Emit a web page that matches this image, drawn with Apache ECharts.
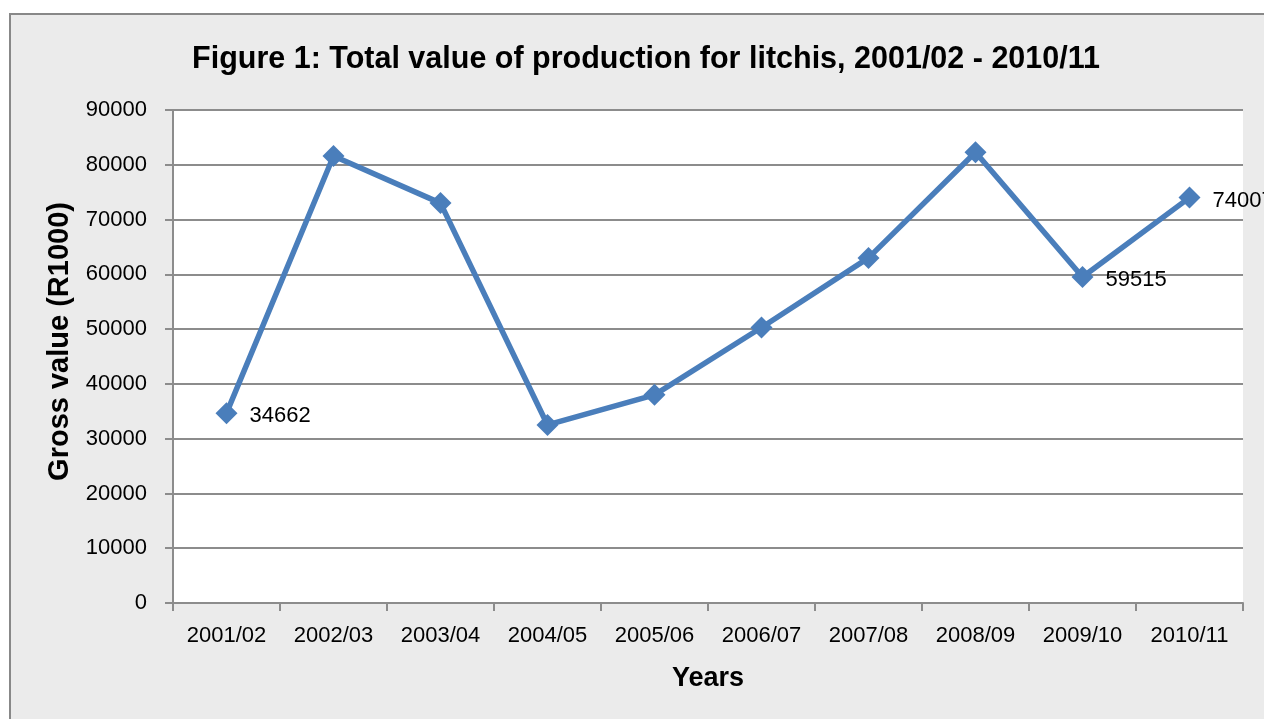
<!DOCTYPE html>
<html>
<head>
<meta charset="utf-8">
<script src="https://cdn.jsdelivr.net/npm/echarts@6/dist/echarts.min.js"></script>
<style>
html,body{margin:0;padding:0;background:#fff;}
#chart{width:1264px;height:719px;}
</style>
</head>
<body>
<div id="chart"></div>
<script>
var categories = ['2001/02','2002/03','2003/04','2004/05','2005/06','2006/07','2007/08','2008/09','2009/10','2010/11'];
var values = [34662, 81600, 73000, 32500, 38000, 50300, 63000, 82300, 59515, 74007];
var labelledIndexes = [0, 8, 9];
var yTicks = {min: 0, max: 90000, interval: 10000};

var FONT = '"Liberation Sans Narrow", "Arial Narrow", "Liberation Sans", Arial, sans-serif';
var chart = echarts.init(document.getElementById('chart'), null, {renderer: 'canvas'});

var seriesData = values.map(function (v, i) {
  var item = {value: v};
  if (labelledIndexes.indexOf(i) >= 0) {
    item.label = {show: true};
  }
  return item;
});

chart.setOption({
  backgroundColor: '#ffffff',
  animation: false,
  graphic: [{
    type: 'rect',
    z: -10,
    shape: {x: 10, y: 14, width: 1270, height: 720},
    style: {fill: '#ebebeb', stroke: '#888888', lineWidth: 2}
  }],
  title: {
    text: 'Figure 1: Total value of production for litchis, 2001/02 - 2010/11',
    left: 641,
    textAlign: 'center',
    top: 39,
    textStyle: {fontFamily: FONT, fontWeight: 'bold', fontSize: 30.5, color: '#000'}
  },
  grid: {left: 173, right: 21, top: 110, bottom: 116, show: true, backgroundColor: '#ffffff', borderWidth: 0},
  xAxis: {
    type: 'category',
    data: categories,
    boundaryGap: true,
    name: 'Years',
    nameLocation: 'middle',
    nameGap: 62,
    nameTextStyle: {fontFamily: FONT, fontWeight: 'bold', fontSize: 27, color: '#000'},
    axisLine: {lineStyle: {color: '#8c8c8c', width: 2}},
    axisTick: {show: true, length: 8, alignWithLabel: false, interval: 0, lineStyle: {color: '#8c8c8c', width: 2}},
    axisLabel: {fontFamily: FONT, fontSize: 22, color: '#000', margin: 22, interval: 0}
  },
  yAxis: {
    type: 'value',
    min: yTicks.min, max: yTicks.max, interval: yTicks.interval,
    name: 'Gross value (R1000)',
    nameLocation: 'middle',
    nameGap: 80,
    nameRotate: 90,
    nameTextStyle: {fontFamily: FONT, fontWeight: 'bold', fontSize: 29, color: '#000', padding: [0, 0, 0, 30]},
    axisLine: {show: true, lineStyle: {color: '#8c8c8c', width: 2}},
    axisTick: {show: true, length: 8, inside: false, lineStyle: {color: '#8c8c8c', width: 2}},
    axisLabel: {fontFamily: FONT, fontSize: 22, color: '#000', margin: 26, formatter: function (v) { return String(v); }},
    splitLine: {show: true, lineStyle: {color: '#8c8c8c', width: 2}}
  },
  series: [{
    type: 'line',
    data: seriesData,
    symbol: 'diamond',
    symbolSize: 22,
    itemStyle: {color: '#4a7ebb'},
    lineStyle: {color: '#4a7ebb', width: 5.5},
    label: {show: false, position: 'right', distance: 12, offset: [0, 3], fontFamily: FONT, fontSize: 22, color: '#000'},
    clip: false
  }]
});
</script>
</body>
</html>
